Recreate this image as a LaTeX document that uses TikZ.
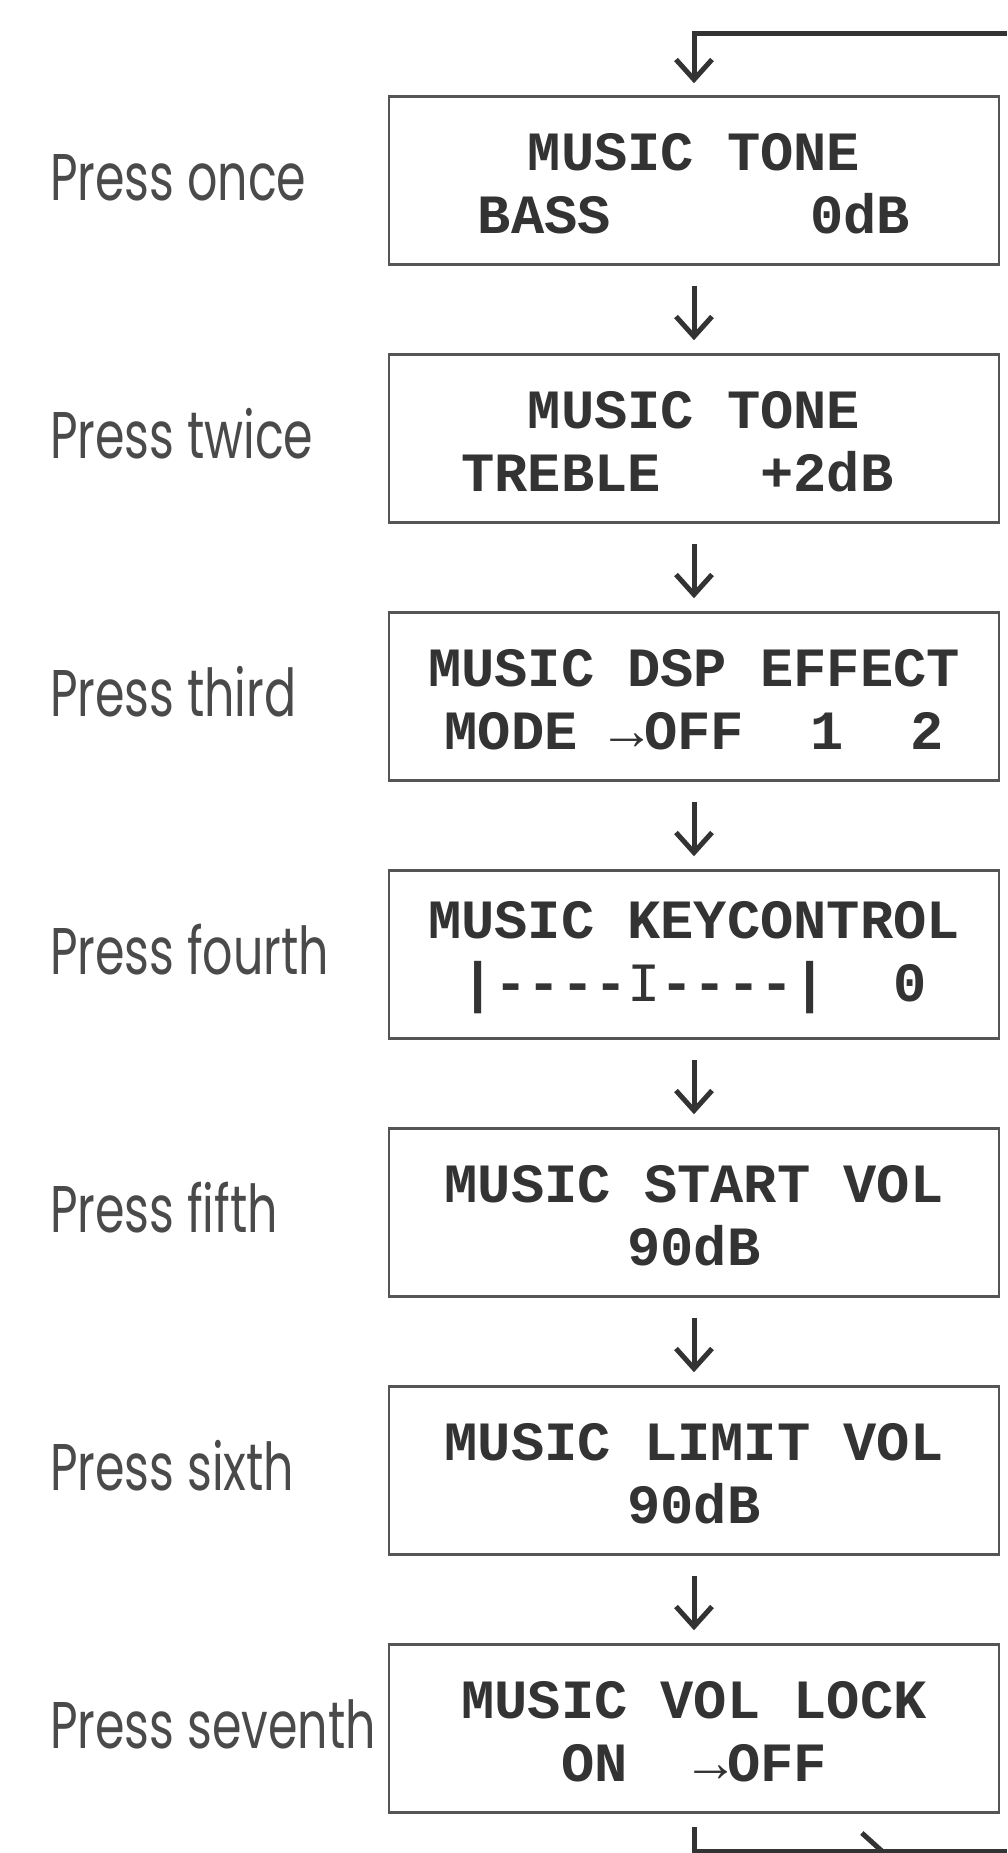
\documentclass[tikz,border=0pt]{standalone}
\usepackage{fontspec}
\usepackage{graphicx}
\usetikzlibrary{arrows.meta, calc, positioning, decorations.markings}
\newfontfamily\lcdfont{Liberation Mono}
\newfontfamily\pressfont{Poppins}
\definecolor{ink}{HTML}{333333}
\definecolor{frame}{HTML}{555555}
\definecolor{soft}{HTML}{4A4A4A}
\newcommand\lcdgap{\hphantom{0}}
\newcommand\lcdarrow{{\mdseries\char"2192}}

\begin{document}
\begin{tikzpicture}[x=1pt, y=-1pt,
    screen/.style={draw=frame, line width=2.5pt, minimum width=610pt, minimum height=168pt,
        inner sep=0pt, align=center, text=ink,
        font=\lcdfont\bfseries\fontsize{55.4pt}{63pt}\selectfont},
    press/.style={anchor=base west, inner sep=0pt, text=soft,
        font=\pressfont\fontsize{66pt}{66pt}\selectfont},
    flow/.style={draw=ink, line width=5pt, -{Straight Barb[length=20pt, width=36pt]}}]
    \useasboundingbox (0,0) rectangle (1007,1853);
    % display screens
    \node[screen] (s1) at (694,180.5) {\rule{0pt}{44pt}MUSIC TONE\\BASS~~~~~~0dB};
    \node[screen, below=87.5pt of s1] (s2) {\rule{0pt}{44pt}MUSIC TONE\\TREBLE~~~+2dB\lcdgap};
    \node[screen, below=87.5pt of s2] (s3) {\rule{0pt}{44pt}MUSIC DSP EFFECT\\MODE~\lcdarrow OFF~~1~~2};
    \node[screen, below=87.5pt of s3] (s4) {\rule{0pt}{44pt}MUSIC KEYCONTROL\\\lcdgap|----{\mdseries I}----|~~0\lcdgap};
    \node[screen, below=87.5pt of s4] (s5) {\rule{0pt}{44pt}MUSIC START VOL\\90dB};
    \node[screen, below=87.5pt of s5] (s6) {\rule{0pt}{44pt}MUSIC LIMIT VOL\\90dB};
    \node[screen, below=87.5pt of s6] (s7) {\rule{0pt}{44pt}MUSIC VOL LOCK\\ON~~\lcdarrow OFF};
    % key presses
    \coordinate (margin) at (50,0);
    \foreach \s/\t in {s1/once, s2/twice, s3/third, s4/fourth, s5/fifth, s6/sixth, s7/seventh}
        \node[press, yshift=-20pt] (press-\s) at (margin |- \s) {\scalebox{0.72}[1]{Press \t}};
    % steps
    \foreach \a/\b in {s1/s2, s2/s3, s3/s4, s4/s5, s5/s6, s6/s7}
        \draw[flow] ($(\a.south)+(0,20)$) -- ($(\b.north)+(0,-13)$);
    % loop back
    \coordinate (loopin) at (1007,33);
    \coordinate (loopout) at (1007,1851);
    \draw[flow] (loopin) -| ($(s1.north)+(0,-12)$);
    \draw[draw=ink, line width=5pt, postaction={decorate}, decoration={markings,
        mark=at position 0.64 with {\arrow{Straight Barb[length=20pt, width=36pt]}}}]
        ($(s7.south)+(0,13)$) |- (loopout);
\end{tikzpicture}
\end{document}
